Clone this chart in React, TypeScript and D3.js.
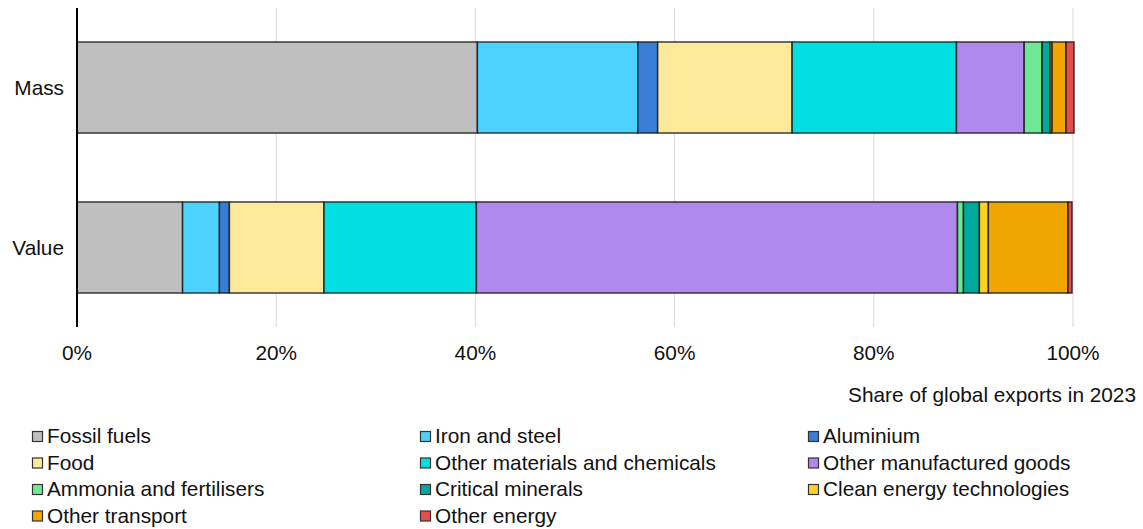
import React from "react";
import * as d3 from "d3";

// categories (bars) and series (stack segments)
const categories = ["Mass", "Value"];

const seriesNames = [
  "Fossil fuels",
  "Iron and steel",
  "Aluminium",
  "Food",
  "Other materials and chemicals",
  "Other manufactured goods",
  "Ammonia and fertilisers",
  "Critical minerals",
  "Clean energy technologies",
  "Other transport",
  "Other energy",
];

const seriesColors = [
  "#bfbfbf",
  "#4dd2ff",
  "#3a7dd6",
  "#fde99c",
  "#00e0e0",
  "#b088ee",
  "#6ee896",
  "#00a99d",
  "#ffd21f",
  "#f0a500",
  "#e84c4c",
];

// share of global exports (%), in seriesNames order
const massShares = [40.2, 16.1, 2.0, 13.5, 16.5, 6.8, 1.8, 0.8, 0.2, 1.4, 0.8];
const valueShares = [10.6, 3.7, 1.0, 9.5, 15.3, 48.3, 0.6, 1.6, 0.9, 8.0, 0.4];

const xTicks = [0, 20, 40, 60, 80, 100];
const axisTitle = "Share of global exports in 2023";

const W = 1143;
const H = 529;
const FONT = "'Liberation Sans', Arial, Helvetica, sans-serif";
const FS = 20.8;

export default function App() {
  const rows = categories.map((c, i) => {
    const src = i === 0 ? massShares : valueShares;
    const r: any = { category: c };
    seriesNames.forEach((s, j) => (r[s] = src[j]));
    return r;
  });

  const stacked = d3.stack<any>().keys(seriesNames)(rows);

  const x = d3.scaleLinear().domain([0, 100]).range([77, 1073]);
  const y = d3
    .scaleBand<string>()
    .domain(categories)
    .range([8, 327])
    .paddingInner(0.431)
    .paddingOuter(0.2125);

  const color = d3.scaleOrdinal<string, string>().domain(seriesNames).range(seriesColors);

  const legendCols = [32, 420, 808];
  const legendRow0 = 443;
  const legendRowStep = 26.5;

  return (
    <>
      <style>{`body{margin:0}`}</style>
      <svg width={W} height={H} style={{ display: "block", fontFamily: FONT }}>
        <rect width={W} height={H} fill="#fff" />
        {/* grid */}
        {xTicks.slice(1).map((t) => (
          <line
            key={t}
            x1={x(t)}
            x2={x(t)}
            y1={8}
            y2={327}
            stroke="#d9d9d9"
            strokeWidth={1}
          />
        ))}
        {/* bars */}
        {stacked.map((layer) => (
          <g key={layer.key} fill={color(layer.key)}>
            {layer.map((d: any) => (
              <rect
                key={d.data.category}
                x={x(d[0])}
                y={y(d.data.category)}
                width={Math.max(0, x(d[1]) - x(d[0]))}
                height={y.bandwidth()}
                stroke="#1a1a1a"
                strokeOpacity={0.85}
                strokeWidth={1.5}
              />
            ))}
          </g>
        ))}
        {/* y axis line */}
        <line x1={x(0)} x2={x(0)} y1={8} y2={327} stroke="#000" strokeWidth={2} />
        {/* category labels */}
        {categories.map((c) => (
          <text
            key={c}
            x={64}
            y={(y(c) as number) + y.bandwidth() / 2}
            dy="0.35em"
            textAnchor="end"
            fontSize={FS}
            fill="#111"
          >
            {c}
          </text>
        ))}
        {/* x tick labels */}
        {xTicks.map((t) => (
          <text key={t} x={x(t)} y={360} textAnchor="middle" fontSize={FS} fill="#111">
            {t}%
          </text>
        ))}
        <text x={1136} y={402} textAnchor="end" fontSize={FS} fill="#111">
          {axisTitle}
        </text>
        {/* legend */}
        {seriesNames.map((s, i) => {
          const col = i % 3;
          const row = Math.floor(i / 3);
          const lx = legendCols[col];
          const ly = legendRow0 + row * legendRowStep;
          return (
            <g key={s}>
              <rect
                x={lx + 0.5}
                y={ly - 11.5}
                width={10}
                height={10}
                fill={color(s)}
                stroke="#333"
                strokeWidth={1.2}
              />
              <text x={lx + 15} y={ly} fontSize={FS} fill="#111">
                {s}
              </text>
            </g>
          );
        })}
      </svg>
    </>
  );
}
